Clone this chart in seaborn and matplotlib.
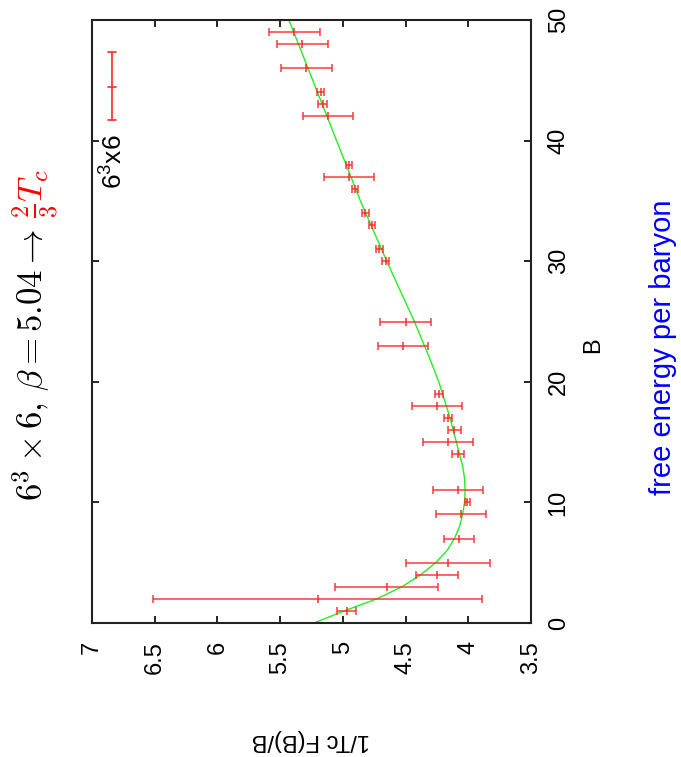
import matplotlib
matplotlib.use("Agg")
import matplotlib.pyplot as plt
from matplotlib.lines import Line2D
import seaborn as sns
import pandas as pd

# ---------------- data ----------------
B_vals = [49, 48, 46, 44, 43, 42, 38, 37, 36, 34, 33, 31, 30, 25, 23,
          19, 18, 17, 16, 15, 14, 11, 10, 9, 7, 5, 4, 3, 2, 1]
F_vals = [5.386, 5.322, 5.29, 5.178, 5.162, 5.12, 4.954, 4.95, 4.906, 4.82,
          4.77, 4.71, 4.66, 4.50, 4.52, 4.235, 4.25, 4.16, 4.11, 4.16,
          4.08, 4.08, 4.01, 4.06, 4.075, 4.16, 4.25, 4.65, 5.20, 4.97]
F_err = [0.2, 0.2, 0.2, 0.028, 0.033, 0.2, 0.024, 0.2, 0.025, 0.027,
         0.025, 0.027, 0.025, 0.2, 0.2, 0.03, 0.2, 0.03, 0.05, 0.2,
         0.047, 0.2, 0.02, 0.2, 0.12, 0.335, 0.167, 0.41, 1.31, 0.076]

fit_B = [0, 1, 2, 3, 4, 5, 6, 7, 8, 9, 10, 11, 12, 13, 14, 15, 16, 17, 18,
         19, 20, 22, 25, 30, 35, 40, 45, 50]
fit_F = [5.23, 4.99, 4.73, 4.53, 4.38, 4.26, 4.17, 4.11, 4.07, 4.045, 4.03,
         4.025, 4.03, 4.045, 4.07, 4.095, 4.12, 4.145, 4.175, 4.205, 4.235,
         4.31, 4.43, 4.65, 4.86, 5.05, 5.24, 5.43]

F_ticks = [7, 6.5, 6, 5.5, 5, 4.5, 4, 3.5]
F_tick_labels = ["7", "6.5", "6", "5.5", "5", "4.5", "4", "3.5"]
B_ticks = [0, 10, 20, 30, 40, 50]
B_tick_labels = ["0", "10", "20", "30", "40", "50"]

title_black = r"$6^3\times 6,\, \beta=5.04\rightarrow$"
title_red = r"$\frac{2}{3}T_c$"
legend_label = r"6$^3$x6"
value_label = "1/Tc F(B)/B"
b_label = "B"
note_label = "free energy per baryon"

# ---------------- style ----------------
sns.set_theme(style="white")
plt.rcParams["font.family"] = ["Liberation Sans", "DejaVu Sans"]
plt.rcParams["mathtext.fontset"] = "custom"
plt.rcParams["mathtext.rm"] = "Liberation Sans"
plt.rcParams["mathtext.it"] = "Liberation Sans:italic"
plt.rcParams["mathtext.bf"] = "Liberation Sans:bold"

W, H = 681, 757
fig = plt.figure(figsize=(W / 100, H / 100), dpi=100)
fig.patch.set_facecolor("white")

def fx(px):
    return px / W

def fy(py):
    return 1 - py / H

left, right, top, bottom = 92, 531, 20, 623
ax = fig.add_axes([fx(left), fy(bottom), (right - left) / W, (bottom - top) / H])
ax.set_facecolor("white")

red = "#ff2a2a"
green = "#22ee22"

fit_df = pd.DataFrame({"F": fit_F, "B": fit_B})
sns.lineplot(data=fit_df, x="F", y="B", sort=False, estimator=None,
             color=green, linewidth=1.0, ax=ax)

pts = pd.DataFrame({"F": F_vals, "B": B_vals, "err": F_err})
ax.errorbar(pts["F"], pts["B"], xerr=pts["err"], fmt="none", ecolor=red,
            elinewidth=1.2, capsize=2.6, capthick=1.2, alpha=0.85, zorder=3)
sns.scatterplot(data=pts, x="F", y="B", marker="|", s=28, color=red,
                linewidth=1.2, alpha=0.9, ax=ax, zorder=4, legend=False)

ax.set_xlim(7, 3.5)
ax.set_ylim(0, 50)
ax.set_xticks(F_ticks)
ax.set_xticklabels(F_tick_labels, rotation=90, fontsize=17)
ax.yaxis.tick_right()
ax.set_yticks(B_ticks)
ax.set_yticklabels(B_tick_labels, rotation=90, fontsize=17, va="center")
ax.tick_params(axis="both", which="both", direction="in", length=5, width=1.2,
               colors="black", top=True, bottom=True, left=True, right=True,
               labelleft=False, labelright=True, labeltop=False, labelbottom=True)
ax.tick_params(axis="x", pad=13)
ax.tick_params(axis="y", pad=12)
ax.set_xlabel("")
ax.set_ylabel("")
for s in ax.spines.values():
    s.set_visible(True)
    s.set_color("#222222")
    s.set_linewidth(1.5)

# legend (rotated layout, drawn by hand)
lx = fx(112)
y1, y2, ym = fy(52), fy(120), fy(87)
cw = 3.5 / W
for line in [Line2D([lx, lx], [y1, y2]),
             Line2D([lx - cw, lx + cw], [y1, y1]),
             Line2D([lx - cw, lx + cw], [y2, y2]),
             Line2D([lx - cw, lx + cw], [ym, ym])]:
    line.set_transform(fig.transFigure)
    line.set_color(red)
    line.set_linewidth(1.2)
    fig.add_artist(line)
fig.text(fx(123), fy(162), legend_label, rotation=90, rotation_mode="anchor",
         ha="center", va="baseline", fontsize=19, color="black",
         math_fontfamily="custom")

# title
fig.text(fx(43), fy(229), title_black, rotation=90, rotation_mode="anchor",
         ha="right", va="baseline", fontsize=25, color="black",
         math_fontfamily="cm")
fig.text(fx(43), fy(218), title_red, rotation=90, rotation_mode="anchor",
         ha="left", va="baseline", fontsize=25, color="#ff0000",
         math_fontfamily="cm")

# axis labels
fig.text(fx(311), fy(740), value_label, rotation=180, ha="center", va="center",
         fontsize=17, color="black")
fig.text(fx(593), fy(345), b_label, rotation=90, ha="center", va="center",
         fontsize=17, color="black")
fig.text(fx(663), fy(347), note_label, rotation=90, ha="center", va="center",
         fontsize=21, color="#0000ff")

fig.savefig("out.png", dpi=100, facecolor="white")
